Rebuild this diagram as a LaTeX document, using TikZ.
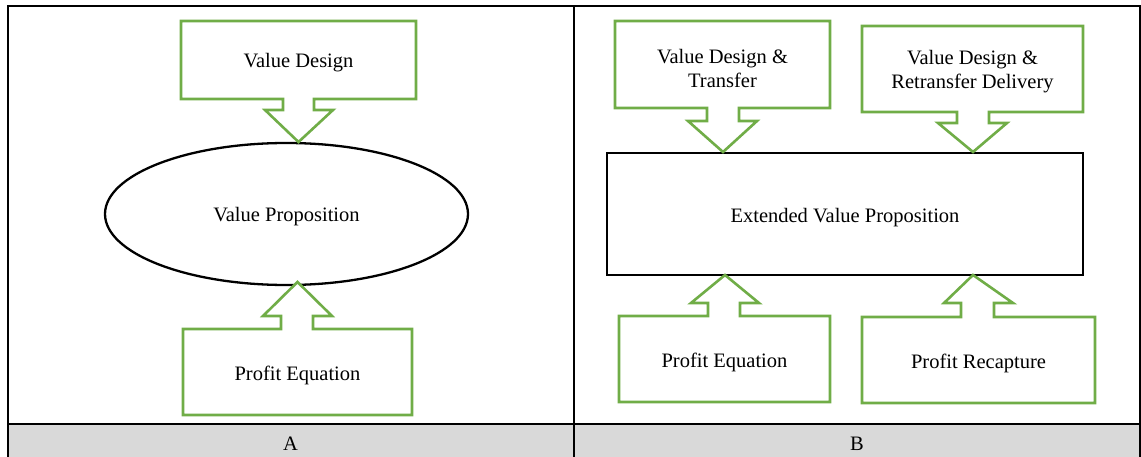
\documentclass[tikz,border=0pt]{standalone}
\usepackage{fontspec}
\setmainfont{Liberation Serif}
\usetikzlibrary{shapes.geometric}
\definecolor{cgreen}{HTML}{70AD47}
\definecolor{cgray}{HTML}{D9D9D9}
\tikzset{
  callout/.style={draw=cgreen, line width=2.6pt, line join=miter, fill=white},
  grid/.style={draw=black, line width=2pt},
  lbl/.style={font=\fontsize{20.5}{24}\selectfont, align=center, inner sep=0pt, yshift=-2.5pt},
}
\begin{document}
\begin{tikzpicture}[x=1pt,y=-1pt]
\useasboundingbox (0,0) rectangle (1141,457);
% table
\fill[cgray] (7.5,423.5) rectangle (1140,458);
\draw[grid] (7.5,458) -- (7.5,6) -- (1140,6) -- (1140,458);
\draw[grid] (574,6) -- (574,458);
\draw[grid] (7.5,423.5) -- (1140,423.5);
\node[lbl] (labA) at (290.5,441) {A};
\node[lbl] (labB) at (857,441) {B};

% Panel A
\node[draw=black, line width=2.3pt, ellipse, minimum width=363pt, minimum height=142pt, inner sep=0pt] (vp) at (286.5,214) {};
\node[lbl] (vptxt) at (vp.center) {Value Proposition};
\draw[callout] (181,21) -- (416,21) -- (416,99) -- (314,99) -- (314,110) -- (333,110) -- (298.5,142) -- (265,110) -- (283,110) -- (283,99) -- (181,99) -- cycle;
\node[lbl] (vd) at (298.5,60) {Value Design};
\draw[callout] (183,415) -- (412,415) -- (412,329) -- (313,329) -- (313,316) -- (332,316) -- (297.5,282) -- (263,316) -- (281,316) -- (281,329) -- (183,329) -- cycle;
\node[lbl] (pe) at (297.5,373) {Profit Equation};

% Panel B
\draw[line width=2.5pt, draw=black] (607,153) rectangle (1083,275);
\node[lbl] (evp) at (845,215) {Extended Value Proposition};
\draw[callout] (615,21) -- (830,21) -- (830,108) -- (739,108) -- (739,121) -- (757,121) -- (723,152) -- (688,121) -- (707,121) -- (707,108) -- (615,108) -- cycle;
\node[lbl] (vdt) at (722.5,66) {Value Design \&\\Transfer};
\draw[callout] (862,26) -- (1083,26) -- (1083,112) -- (989,112) -- (989,123) -- (1007,123) -- (973,152) -- (938,123) -- (957,123) -- (957,112) -- (862,112) -- cycle;
\node[lbl] (vdr) at (972.5,69.5) {Value Design \&\\Retransfer Delivery};
\draw[callout] (619,402) -- (830,402) -- (830,316) -- (740,316) -- (740,303) -- (759,303) -- (725,275) -- (691,303) -- (708,303) -- (708,316) -- (619,316) -- cycle;
\node[lbl] (pe2) at (724.5,360) {Profit Equation};
\draw[callout] (862,403) -- (1095,403) -- (1095,317) -- (994,317) -- (994,303) -- (1013,303) -- (973,275) -- (944,303) -- (961,303) -- (961,317) -- (862,317) -- cycle;
\node[lbl] (pr) at (978.5,361) {Profit Recapture};
\end{tikzpicture}
\end{document}
